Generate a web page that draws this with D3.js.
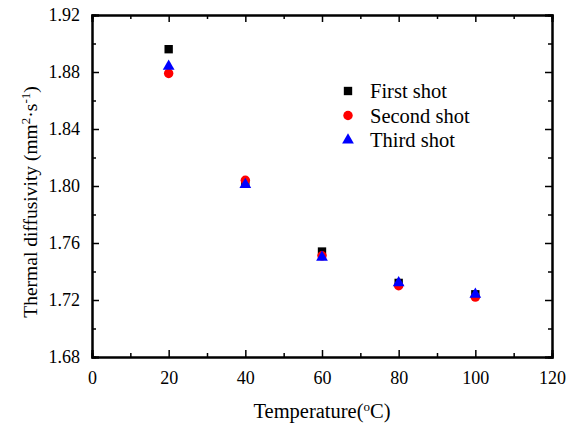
<!DOCTYPE html>
<html>
<head>
<meta charset="utf-8">
<script src="https://cdn.jsdelivr.net/npm/d3@7"></script>
<style>
  body { margin: 0; background: #fff; }
</style>
</head>
<body>
<div class="canvas"></div>
<script>
// data
const temps = [20, 40, 60, 80, 100];
const firstShot = [1.896, 1.802, 1.754, 1.732, 1.724];
const secondShot = [1.879, 1.804, 1.751, 1.730, 1.722];
const thirdShot = [1.884, 1.801, 1.750, 1.732, 1.724];
const xTicks = [0, 20, 40, 60, 80, 100, 120];
const yTicks = [1.68, 1.72, 1.76, 1.80, 1.84, 1.88, 1.92];

const FONT = '"Times New Roman", Tinos, "Liberation Serif", "DejaVu Serif", serif';

const svg = d3.select('.canvas')
    .append('svg')
    .attr('width', 573)
    .attr('height', 429);

const margin = { top: 15, right: 21, bottom: 72, left: 92 };
const graphWidth = 573 - margin.left - margin.right;
const graphHeight = 429 - margin.top - margin.bottom;

const graph = svg.append('g')
    .attr('transform', `translate(${margin.left}, ${margin.top})`);

// scales
const x = d3.scaleLinear().domain([0, 120]).range([0, graphWidth]);
const y = d3.scaleLinear().domain([1.68, 1.92]).range([graphHeight, 0]);

const minorX = d3.range(10, 120, 20);
const minorY = d3.range(0, 6).map(i => 1.70 + i * 0.04);

// axes (ticks inward)
const xAxis = d3.axisBottom(x).tickValues(xTicks).tickSize(-7).tickPadding(14).tickFormat(d3.format('d'));
const yAxis = d3.axisLeft(y).tickValues(yTicks).tickSize(-7).tickPadding(12).tickFormat(d3.format('.2f'));

const xAxisGroup = graph.append('g').attr('transform', `translate(0, ${graphHeight})`).call(xAxis);
const yAxisGroup = graph.append('g').call(yAxis);

// top and right with ticks only
graph.append('g').call(d3.axisTop(x).tickValues(xTicks).tickSize(-7).tickFormat(''));
graph.append('g').attr('transform', `translate(${graphWidth}, 0)`)
    .call(d3.axisRight(y).tickValues(yTicks).tickSize(-7).tickFormat(''));

// minor ticks
graph.append('g').attr('transform', `translate(0, ${graphHeight})`)
    .call(d3.axisBottom(x).tickValues(minorX).tickSize(-4).tickFormat(''));
graph.append('g').call(d3.axisTop(x).tickValues(minorX).tickSize(-4).tickFormat(''));
graph.append('g').call(d3.axisLeft(y).tickValues(minorY).tickSize(-4).tickFormat(''));
graph.append('g').attr('transform', `translate(${graphWidth}, 0)`)
    .call(d3.axisRight(y).tickValues(minorY).tickSize(-4).tickFormat(''));

graph.selectAll('.domain').attr('stroke', '#000').attr('stroke-width', 2);
graph.selectAll('.tick line').attr('stroke', '#000').attr('stroke-width', 1.5);

graph.selectAll('g').attr('font-family', null);
xAxisGroup.selectAll('text').attr('font-size', 18).style('font-family', FONT).attr('fill', '#000');
yAxisGroup.selectAll('text').attr('font-size', 18).style('font-family', FONT).attr('fill', '#000');

// series
const series = [
    { name: 'First shot', values: firstShot, color: '#000', shape: d3.symbolSquare, size: 70 },
    { name: 'Second shot', values: secondShot, color: '#ff0000', shape: d3.symbolCircle, size: 70 },
    { name: 'Third shot', values: thirdShot, color: '#0000ff', shape: d3.symbolTriangle, size: 60 }
];

series.forEach(s => {
    graph.selectAll(null)
        .data(temps.map((t, i) => ({ t, v: s.values[i] })))
        .enter()
        .append('path')
        .attr('d', d3.symbol().type(s.shape).size(s.size))
        .attr('fill', s.color)
        .attr('transform', d => `translate(${x(d.t)}, ${y(d.v)})`);
});

// legend
const legend = svg.append('g').attr('transform', 'translate(348, 91)');
series.forEach((s, i) => {
    legend.append('path')
        .attr('d', d3.symbol().type(s.shape).size(s.size))
        .attr('fill', s.color)
        .attr('transform', `translate(0, ${i * 24.5})`);
    legend.append('text')
        .attr('x', 22)
        .attr('y', i * 24.5 + 7)
        .attr('font-size', 20.5)
        .style('font-family', FONT)
        .text(s.name);
});

// axis titles
svg.append('text')
    .attr('x', 322)
    .attr('y', 418)
    .attr('text-anchor', 'middle')
    .attr('font-size', 20.5)
    .style('font-family', FONT)
    .html('Temperature(<tspan baseline-shift="super" font-size="13">o</tspan>C)');

svg.append('text')
    .attr('transform', 'translate(37, 202) rotate(-90)')
    .attr('text-anchor', 'middle')
    .attr('font-size', 19.5)
    .style('font-family', FONT)
    .html('Thermal diffusivity (mm<tspan baseline-shift="super" font-size="13">2</tspan>·s<tspan baseline-shift="super" font-size="13">-1</tspan>)');
</script>
</body>
</html>
